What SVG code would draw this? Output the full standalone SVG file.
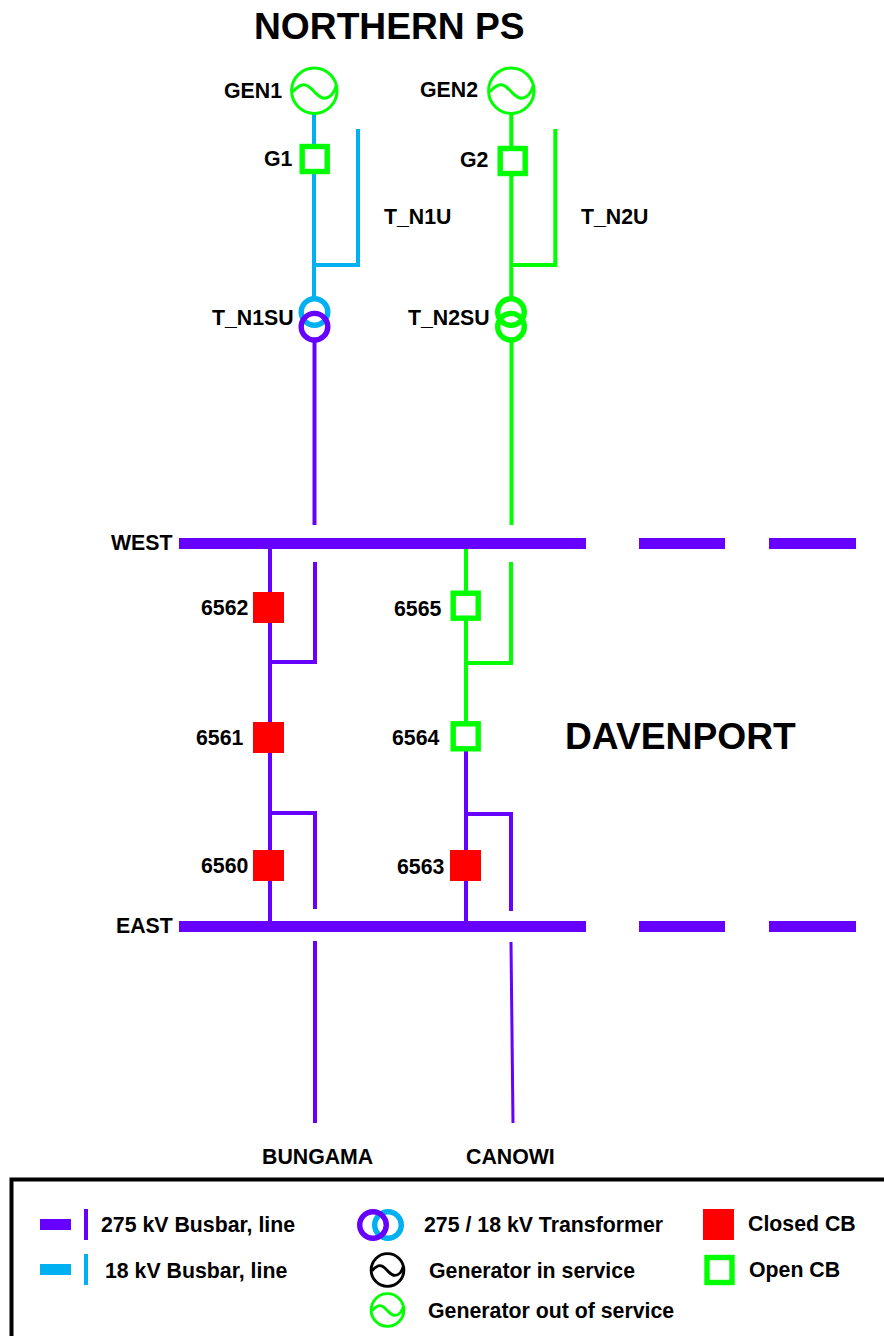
<svg xmlns="http://www.w3.org/2000/svg" width="884" height="1336" viewBox="0 0 884 1336">
<style>
text{font-family:"Liberation Sans",Arial,sans-serif;font-weight:700;fill:#000;font-size:21.300px}
.title{font-size:37.200px}
.p{stroke:#6600ff}.b{stroke:#00b0f0}.g{stroke:#00ff00}
line,polyline{fill:none;stroke-width:4}
.bus{fill:#6600ff;stroke:none}
.closed{fill:#ff0000;stroke:none}
.open{fill:#fff;stroke:#00ff00;stroke-width:5.400}
.gen{fill:none}
.tx{fill:none;stroke-width:5.400}
</style>
<defs>
<g id="gensym"><circle r="22.700" class="gen"/><path d="M-21.500 1C-17-4-14-6-10.500-6C-6-6-3-2 0 1C3 4 6 7.500 10 7.500C15 7.500 20 3 22 -5" class="gen"/></g>
</defs>
<rect width="884" height="1336" fill="#fff"/>
<g id="connectors">
<line class="b" x1="314" y1="113" x2="314" y2="298"/>
<polyline class="b" points="314,265 358,265 358,129"/>
<line class="g" x1="511.300" y1="113" x2="511.300" y2="298"/>
<polyline class="g" points="511.300,265 555.300,265 555.300,129"/>
<line class="p" x1="314.500" y1="340" x2="314.500" y2="525"/>
<line class="g" x1="511.500" y1="340" x2="511.500" y2="525"/>
<line class="p" x1="270" y1="549" x2="270" y2="921"/>
<polyline class="p" points="270,662 315,662 315,562"/>
<polyline class="p" points="270,813 315,813 315,909"/>
<line class="g" x1="466" y1="549" x2="466" y2="723"/>
<polyline class="g" points="466,663 511,663 511,562"/>
<line class="p" x1="466" y1="751" x2="466" y2="921"/>
<polyline class="p" points="466,814 511,814 511,911"/>
<line class="p" x1="315" y1="941" x2="315" y2="1123"/>
<line class="p" x1="511" y1="942" x2="513" y2="1123" style="stroke-width:3"/>
</g>
<g id="gen1"><use href="#gensym" x="314.300" y="90.700" class="g" stroke-width="3"/><text x="224" y="98">GEN1</text></g>
<g id="gen2"><use href="#gensym" x="511.300" y="90.700" class="g" stroke-width="3"/><text x="420" y="97">GEN2</text></g>
<g id="g1"><rect class="open" x="302.200" y="146.500" width="25" height="25"/><text x="264" y="166">G1</text></g>
<g id="g2"><rect class="open" x="500.200" y="148.500" width="25" height="25"/><text x="460" y="167">G2</text></g>
<g id="t_n1su"><circle class="tx b" cx="314.500" cy="312" r="13.300"/><circle class="tx p" cx="314.500" cy="326.700" r="13.300"/><text x="212" y="325">T_N1SU</text></g>
<g id="t_n2su"><circle class="tx g" cx="511" cy="312" r="13.300"/><circle class="tx g" cx="511" cy="326.700" r="13.300"/><text x="408" y="325">T_N2SU</text></g>
<g id="t_n1u"><text x="384" y="224">T_N1U</text></g>
<g id="t_n2u"><text x="581" y="224">T_N2U</text></g>
<g id="west"><rect class="bus" x="179" y="538" width="407" height="11"/><rect class="bus" x="639" y="538" width="86" height="11"/><rect class="bus" x="769" y="538" width="87" height="11"/><text x="111" y="550">WEST</text></g>
<g id="east"><rect class="bus" x="179" y="921" width="407" height="11"/><rect class="bus" x="639" y="921" width="86" height="11"/><rect class="bus" x="769" y="921" width="87" height="11"/><text x="116" y="933">EAST</text></g>
<g id="cb6562"><rect class="closed" x="253" y="592" width="31" height="31"/><text x="201" y="615">6562</text></g>
<g id="cb6561"><rect class="closed" x="253" y="722" width="31" height="31"/><text x="196" y="745">6561</text></g>
<g id="cb6560"><rect class="closed" x="253" y="850" width="31" height="31"/><text x="201" y="873">6560</text></g>
<g id="cb6565"><rect class="open" x="453.200" y="593.200" width="25" height="25"/><text x="394" y="616">6565</text></g>
<g id="cb6564"><rect class="open" x="453.200" y="723.800" width="25" height="25"/><text x="392" y="745">6564</text></g>
<g id="cb6563"><rect class="closed" x="450" y="850" width="31" height="31"/><text x="397" y="874">6563</text></g>
<text class="title" x="254" y="39">NORTHERN PS</text>
<text class="title" x="565" y="749">DAVENPORT</text>
<g id="bungama"><text x="262" y="1164">BUNGAMA</text></g>
<g id="canowi"><text x="466" y="1164">CANOWI</text></g>
<g id="legend">
<polyline points="884,1179.500 11.500,1179.500 11.500,1336" stroke="#000" stroke-width="3"/>
<rect class="bus" x="40" y="1219" width="31" height="11"/>
<line class="p" x1="86" y1="1209" x2="86" y2="1240"/>
<text x="101" y="1232">275 kV Busbar, line</text>
<rect x="40" y="1264" width="31" height="11" fill="#00b0f0"/>
<line class="b" x1="86" y1="1254" x2="86" y2="1285"/>
<text x="105" y="1278">18 kV Busbar, line</text>
<circle class="tx b" cx="388" cy="1225" r="13.300"/>
<circle class="tx p" cx="373" cy="1225" r="13.300"/>
<text x="424" y="1232">275 / 18 kV Transformer</text>
<use href="#gensym" transform="translate(387.500 1270) scale(.72)" stroke="#000" stroke-width="4"/>
<text x="429" y="1278">Generator in service</text>
<use href="#gensym" transform="translate(387.500 1310) scale(.72)" class="g" stroke-width="4"/>
<text x="428" y="1318">Generator out of service</text>
<rect class="closed" x="703" y="1209" width="31" height="31"/>
<text x="748" y="1231">Closed CB</text>
<rect class="open" x="707" y="1257.500" width="25" height="25"/>
<text x="749" y="1277">Open CB</text>
</g>
</svg>
